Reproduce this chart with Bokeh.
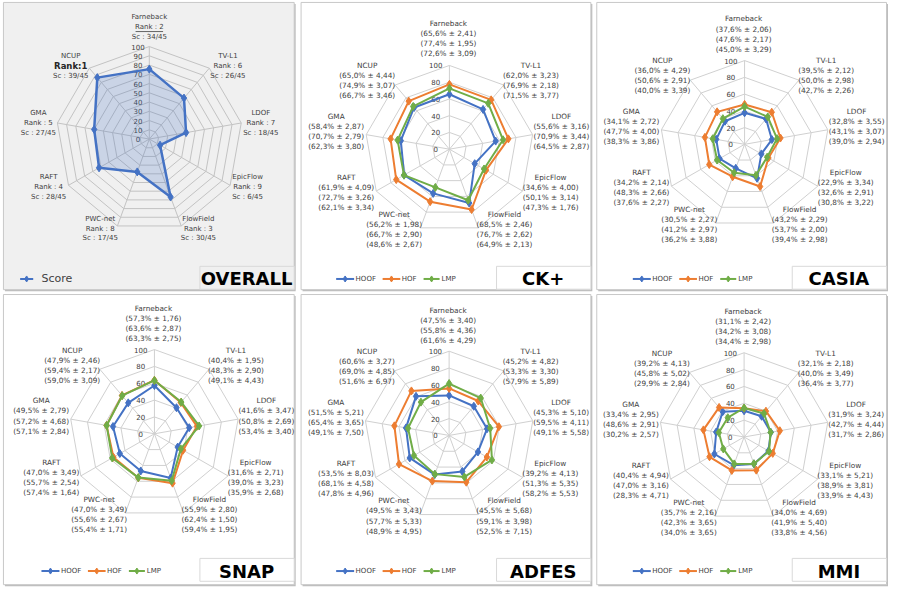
import numpy as np
from bokeh.plotting import figure
from bokeh.models import Range1d
from bokeh.embed import file_html
from bokeh.resources import INLINE
from bokeh.core.properties import value

# ---------------- data ----------------
categories = ["Farneback", "TV-L1", "LDOF", "EpicFlow", "FlowField", "PWC-net", "RAFT", "GMA", "NCUP"]
series_names = ["HOOF", "HOF", "LMP"]
series_colors = ["#4472C4", "#ED7D31", "#70AD47"]

overall_rank = [2, 6, 7, 9, 3, 8, 4, 5, 1]
overall_sc = [34, 26, 18, 6, 30, 17, 28, 27, 39]
overall_score = [75.6, 57.8, 40.0, 13.3, 66.7, 37.8, 62.2, 60.0, 86.7]

ck_hoof = [65.6, 62.0, 55.6, 34.6, 68.5, 56.2, 61.9, 58.4, 65.0]
ck_hoof_sd = [2.41, 3.23, 3.16, 4.00, 2.46, 1.98, 4.09, 2.87, 4.44]
ck_hof = [77.4, 76.9, 70.9, 50.1, 76.7, 66.7, 72.7, 70.7, 74.9]
ck_hof_sd = [1.95, 2.18, 3.44, 3.14, 2.62, 2.90, 3.26, 2.79, 3.07]
ck_lmp = [72.6, 71.5, 64.5, 47.3, 64.9, 48.6, 62.1, 62.3, 66.7]
ck_lmp_sd = [3.09, 3.77, 2.87, 1.76, 2.13, 2.67, 3.34, 3.80, 3.46]

casia_hoof = [37.6, 39.5, 32.8, 22.9, 43.2, 30.5, 34.2, 34.1, 36.0]
casia_hoof_sd = [2.06, 2.12, 3.55, 3.34, 2.29, 2.27, 2.14, 2.72, 4.29]
casia_hof = [47.6, 50.0, 43.1, 32.6, 53.7, 41.2, 48.3, 47.7, 50.6]
casia_hof_sd = [2.17, 2.98, 3.07, 2.91, 2.00, 2.97, 2.66, 4.00, 2.91]
casia_lmp = [45.0, 42.7, 39.0, 30.8, 39.4, 36.2, 37.6, 38.3, 40.0]
casia_lmp_sd = [3.29, 2.26, 2.94, 3.22, 2.98, 3.88, 2.27, 3.86, 3.39]

snap_hoof = [57.3, 40.4, 41.6, 31.6, 55.9, 47.0, 47.0, 49.5, 47.9]
snap_hoof_sd = [1.76, 1.95, 3.47, 2.71, 2.80, 3.49, 3.49, 2.79, 2.46]
snap_hof = [63.6, 48.3, 50.8, 39.0, 62.4, 55.6, 55.7, 57.2, 59.4]
snap_hof_sd = [2.87, 2.90, 2.69, 3.23, 1.50, 2.67, 2.54, 4.68, 2.17]
snap_lmp = [63.3, 49.1, 53.4, 35.9, 59.4, 55.4, 57.4, 57.1, 59.0]
snap_lmp_sd = [2.75, 4.43, 3.40, 2.68, 1.95, 1.71, 1.64, 2.84, 3.09]

adfes_hoof = [47.5, 45.2, 45.3, 39.2, 45.5, 49.5, 53.5, 51.5, 60.6]
adfes_hoof_sd = [3.40, 4.82, 5.10, 4.13, 5.68, 3.43, 8.03, 5.21, 3.27]
adfes_hof = [55.8, 53.3, 59.5, 51.3, 59.1, 57.7, 68.1, 65.4, 69.0]
adfes_hof_sd = [4.36, 3.30, 4.11, 5.35, 3.98, 5.33, 4.58, 3.65, 4.85]
adfes_lmp = [61.6, 57.9, 49.1, 58.2, 52.5, 48.9, 47.8, 49.1, 51.6]
adfes_lmp_sd = [4.29, 5.89, 5.58, 5.53, 7.15, 4.95, 4.96, 7.50, 6.97]

mmi_hoof = [31.1, 32.1, 31.9, 33.1, 34.0, 35.7, 40.4, 33.4, 39.2]
mmi_hoof_sd = [2.42, 2.18, 3.24, 5.21, 4.69, 2.16, 4.94, 2.95, 4.13]
mmi_hof = [34.2, 40.0, 42.7, 38.9, 41.9, 42.3, 47.0, 48.6, 45.8]
mmi_hof_sd = [3.08, 3.49, 4.44, 3.81, 5.40, 3.65, 3.16, 2.91, 5.02]
mmi_lmp = [34.4, 36.4, 31.7, 33.9, 33.8, 34.0, 28.3, 30.2, 29.9]
mmi_lmp_sd = [2.98, 3.77, 2.86, 4.43, 4.56, 3.65, 4.71, 2.57, 2.84]

# ---------------- layout ----------------
FONT = value("DejaVu Sans")
TXT = "#404040"
W, H = 904, 607

p = figure(width=888, height=591, x_range=Range1d(0, W), y_range=Range1d(H, 0),
           output_backend="svg", toolbar_location=None, x_axis_type=None, y_axis_type=None,
           min_border=0, outline_line_color=None, background_fill_color="white",
           border_fill_color="white")
p.grid.visible = False

theta = np.deg2rad(np.arange(9) * 40.0)
sin_t, cos_t = np.sin(theta), np.cos(theta)

off_main = [(-1, -128.7), (83, -86), (114, -33.7), (103, 29), (56, 67.3),
            (-56.3, 67.3), (-105, 29), (-115.3, -33.7), (-83.7, -86)]
off_overall = [(0, -125), (80, -85), (113.5, -26.6), (100, 38.7), (50, 81.7),
               (-50, 81.7), (-102.5, 38.7), (-113, -26.6), (-80, -85)]


def fmt(m, s):
    return ("(%.1f%% ± %.2f)" % (m, s)).replace(".", ",")


def frame(x0, y0, x1, y1, bg):
    p.quad(left=x0 + 1.5, right=x1 + 1.5, top=y0 + 1.5, bottom=y1 + 1.5,
           fill_color="#bdbdbd", line_color=None)
    p.quad(left=x0, right=x1, top=y0, bottom=y1, fill_color=bg, line_color="#c8c8c8", line_width=1)


def title_box(x1, row, bg, title):
    p.quad(left=x1 - 96, right=x1, top=row + 273, bottom=row + 296.5,
           fill_color=bg, line_color="#d9d9d9", line_width=1)
    p.text(x=[x1 - 48.5], y=[row + 286], text=[title], text_font=FONT, text_font_style="bold",
           text_font_size="18px", text_color="#000000", text_align="center", text_baseline="middle")


def grid(cx, cy, r, step, color, lab_dx):
    levels = np.arange(step, 101, step)
    xs, ys = [], []
    for lv in levels:
        rr = r * lv / 100.0
        xs.append(list(cx + rr * np.append(sin_t, sin_t[0])))
        ys.append(list(cy - rr * np.append(cos_t, cos_t[0])))
    p.multi_line(xs=xs, ys=ys, line_color=color, line_width=1)
    p.segment(x0=[cx] * 9, y0=[cy] * 9, x1=list(cx + r * sin_t), y1=list(cy - r * cos_t),
              line_color=color, line_width=1)
    ticks = np.arange(0, 101, step)
    p.text(x=[cx + lab_dx] * len(ticks), y=list(cy - r * ticks / 100.0),
           text=[str(int(t)) for t in ticks], text_font=FONT, text_font_size="7px",
           text_color=TXT, text_align="center", text_baseline="middle")


def radar_xy(cx, cy, r, vals):
    v = np.array(vals) / 100.0
    return cx + r * v * sin_t, cy - r * v * cos_t


# ---------------- OVERALL panel ----------------
frame(3, 2, 299, 297, "#f0f0f0")
cx, cy, r = 151.5, 142.3, 95
grid(cx, cy, r, 10, "#c3c3c3", -11.5)
x, y = radar_xy(cx, cy, r, overall_score)
p.patch(x=list(np.append(x, x[0])), y=list(np.append(y, y[0])), fill_color="#4472C4",
        fill_alpha=0.22, line_color=None)
p.line(x=list(np.append(x, x[0])), y=list(np.append(y, y[0])), line_color="#4472C4", line_width=2.5)
p.scatter(x=list(x), y=list(y), marker="diamond", size=8, color="#4472C4")
for k, cat in enumerate(categories):
    lx, ly = cx + off_overall[k][0], cy + off_overall[k][1]
    p.text(x=[lx], y=[ly], text=[cat], text_font=FONT, text_font_size="7px", text_color=TXT,
           text_align="center", text_baseline="middle")
    if overall_rank[k] == 1:
        p.text(x=[lx], y=[ly + 10.2], text=["Rank:%d" % overall_rank[k]], text_font=FONT,
               text_font_size="8.5px", text_font_style="bold", text_color="#262626",
               text_align="center", text_baseline="middle")
    else:
        p.text(x=[lx], y=[ly + 10.2], text=["Rank : %d" % overall_rank[k]], text_font=FONT,
               text_font_size="7px", text_color=TXT, text_align="center", text_baseline="middle")
    if overall_rank[k] == 2:
        p.segment(x0=[lx - 14], y0=[ly + 14.6], x1=[lx + 14], y1=[ly + 14.6], line_color=TXT, line_width=0.8)
    p.text(x=[lx], y=[ly + 20.4], text=["Sc : %d/45" % overall_sc[k]], text_font=FONT,
           text_font_size="7px", text_color=TXT, text_align="center", text_baseline="middle")
# legend
p.line(x=[20, 33.3], y=[286, 286], line_color="#4472C4", line_width=2)
p.scatter(x=[26.6], y=[286], marker="diamond", size=6, color="#4472C4")
p.text(x=[41.7], y=[286], text=["Score"], text_font=FONT, text_font_size="11px", text_color=TXT,
       text_align="left", text_baseline="middle")
title_box(299, 0, "#f0f0f0", "OVERALL")

# ---------------- dataset panels ----------------
panels = [
    ("CK+", 300, 0, 306, 601, 457.0, 152.7, 86.0,
     [(ck_hoof, ck_hoof_sd), (ck_hof, ck_hof_sd), (ck_lmp, ck_lmp_sd)]),
    ("CASIA", 602, 0, 607, 902, 757.5, 147.7, 86.0,
     [(casia_hoof, casia_hoof_sd), (casia_hof, casia_hof_sd), (casia_lmp, casia_lmp_sd)]),
    ("SNAP", 0, 300, 3, 299, 156.7, 445.0, 86.5,
     [(snap_hoof, snap_hoof_sd), (snap_hof, snap_hof_sd), (snap_lmp, snap_lmp_sd)]),
    ("ADFES", 300, 300, 306, 601, 456.7, 446.7, 86.5,
     [(adfes_hoof, adfes_hoof_sd), (adfes_hof, adfes_hof_sd), (adfes_lmp, adfes_lmp_sd)]),
    ("MMI", 602, 300, 607, 902, 757.0, 448.3, 86.5,
     [(mmi_hoof, mmi_hoof_sd), (mmi_hof, mmi_hof_sd), (mmi_lmp, mmi_lmp_sd)]),
]

for title, colx, row, fx0, fx1, cx, cy, r, data in panels:
    fy0, fy1 = (2, 297) if row == 0 else (302, 600)
    frame(fx0, fy0, fx1, fy1, "#ffffff")
    grid(cx, cy, r, 20, "#d0d0d0", -14)
    for (vals, sds), col in zip(data, series_colors):
        x, y = radar_xy(cx, cy, r, vals)
        p.line(x=list(np.append(x, x[0])), y=list(np.append(y, y[0])), line_color=col, line_width=2)
        p.scatter(x=list(x), y=list(y), marker="diamond", size=8, color=col)
    for k, cat in enumerate(categories):
        lx, ly = cx + off_main[k][0], cy + off_main[k][1]
        lines = [cat] + [fmt(d[0][k], d[1][k]) for d in data]
        p.text(x=[lx] * 4, y=[ly + 10.3 * i for i in range(4)], text=lines, text_font=FONT,
               text_font_size="7.3px", text_color=TXT, text_align="center", text_baseline="middle")
    # legend
    ly = row + 286
    for (a, b, t), col, name in zip([(41.7, 60, 61.5), (89, 107, 108.5), (130.7, 147, 149)],
                                    series_colors, series_names):
        p.line(x=[colx + a, colx + b], y=[ly, ly], line_color=col, line_width=2)
        p.scatter(x=[colx + (a + b) / 2], y=[ly], marker="diamond", size=6, color=col)
        p.text(x=[colx + t], y=[ly], text=[name], text_font=FONT, text_font_size="7px",
               text_color=TXT, text_align="left", text_baseline="middle")
    title_box(fx1, row, "#ffffff", title)

open("out.html", "w").write(file_html(p, INLINE))
